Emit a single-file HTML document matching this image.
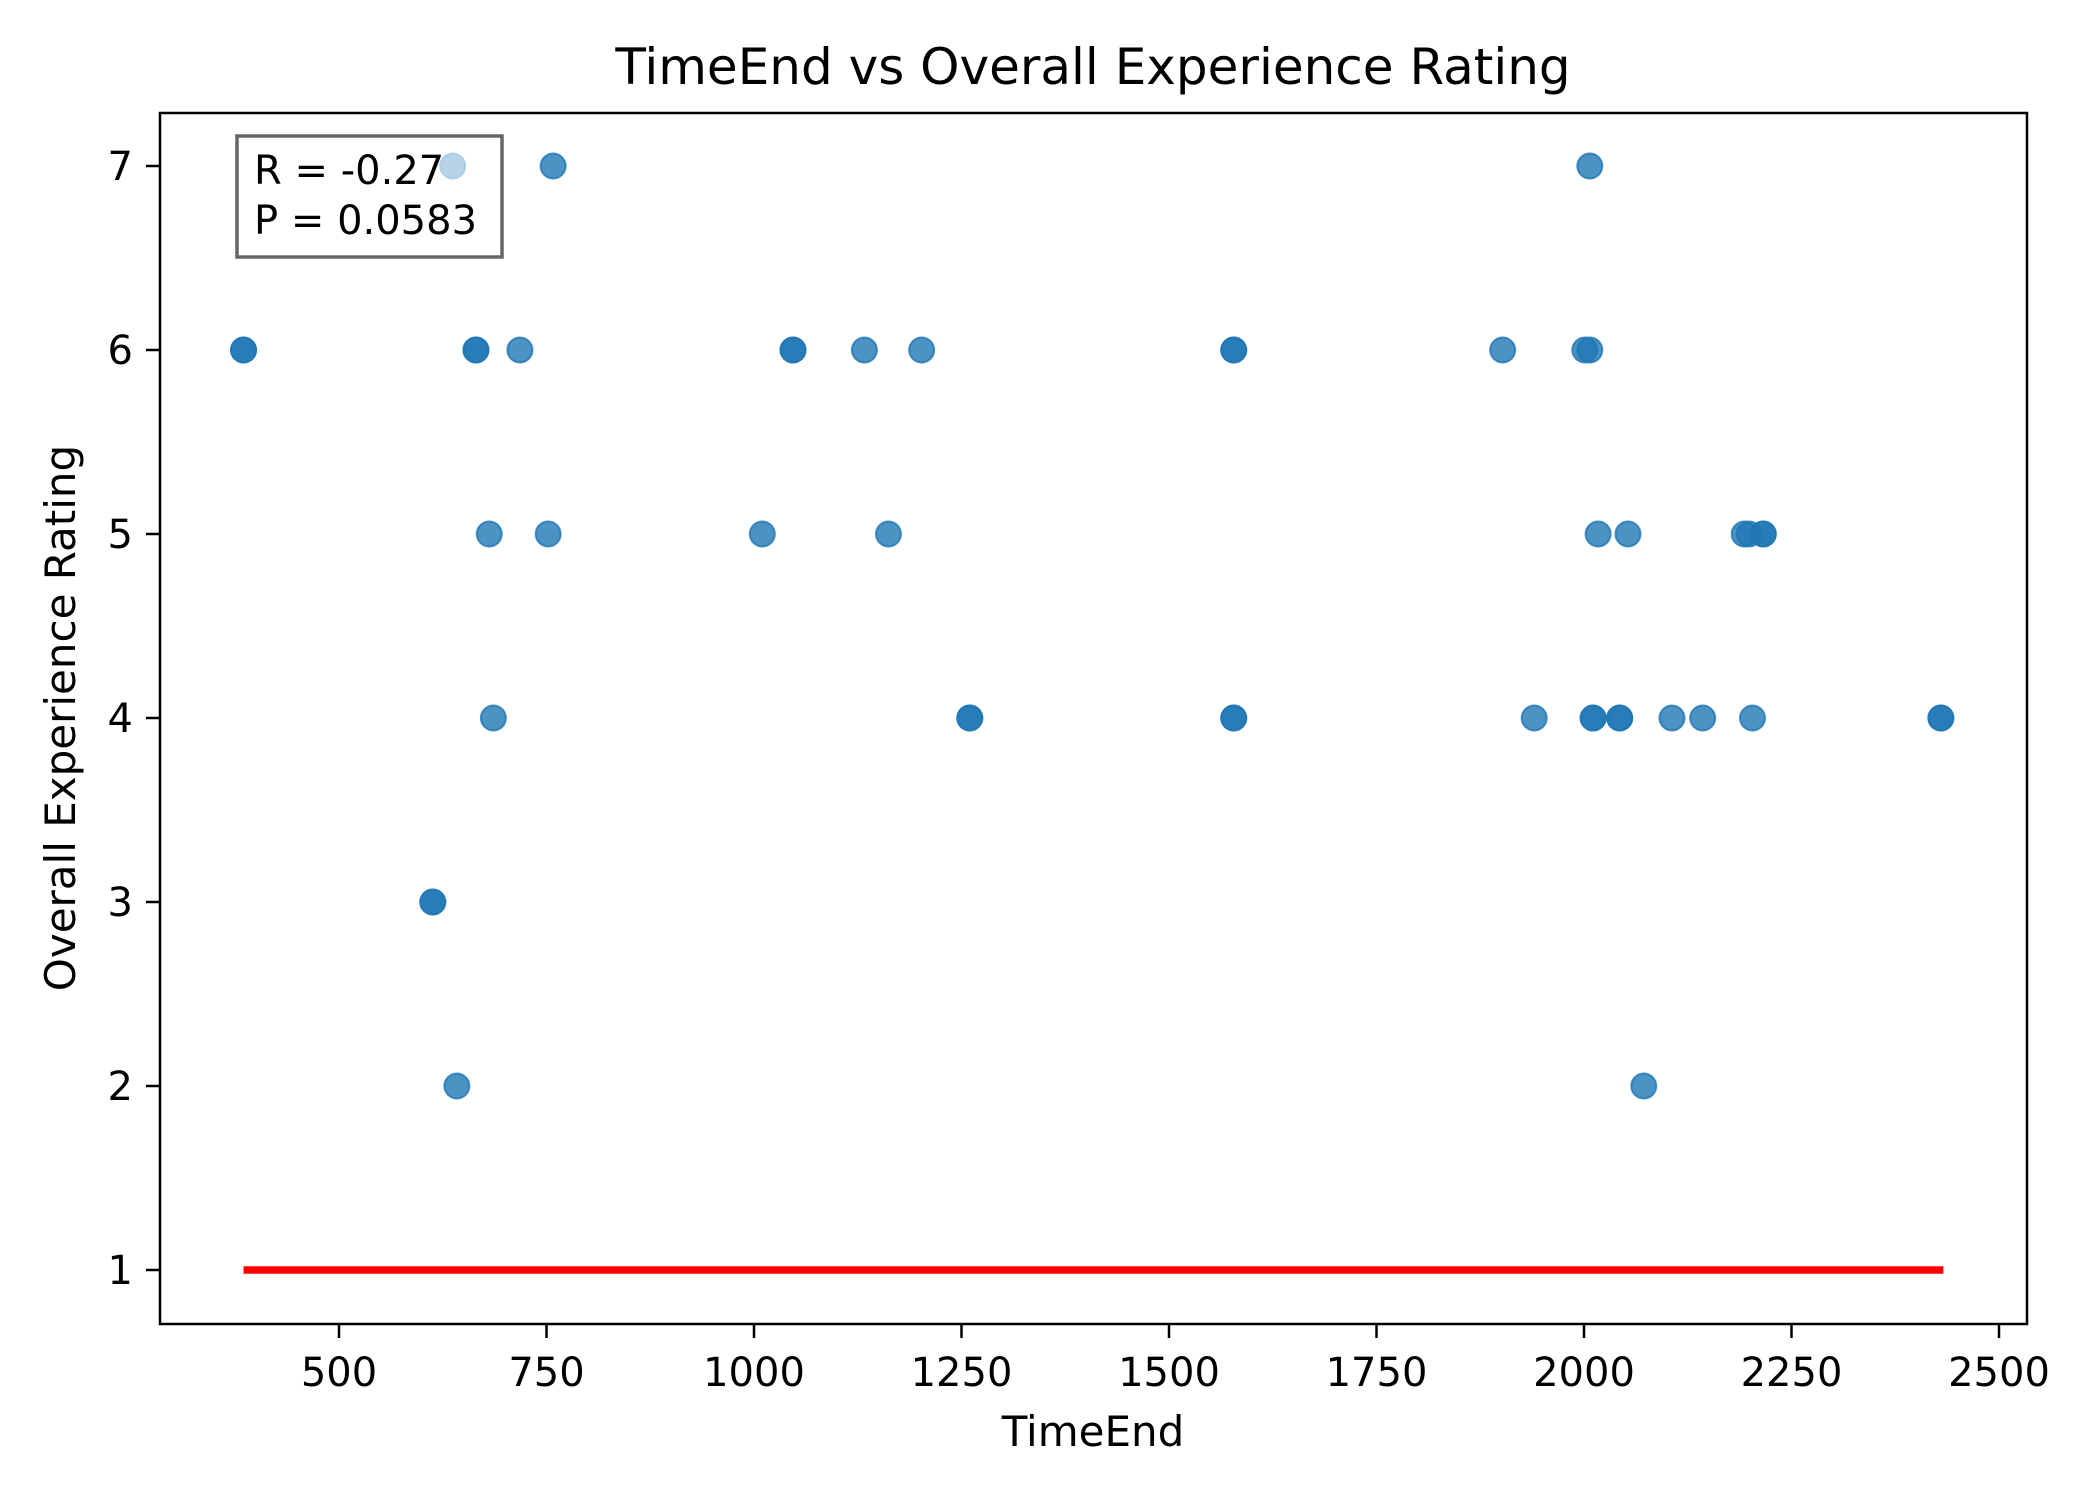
<!DOCTYPE html>
<html><head><meta charset="utf-8"><style>
html,body{margin:0;padding:0;background:#fff;}
svg{display:block;font-family:"DejaVu Sans","Liberation Sans",sans-serif;}
</style></head><body>
<svg id="chart" width="2100" height="1500" viewBox="0 0 2100 1500" xmlns="http://www.w3.org/2000/svg">
<rect x="0" y="0" width="2100" height="1500" fill="#fff"/>
<text x="1093" y="84" font-size="50" text-anchor="middle">TimeEnd vs Overall Experience Rating</text>
<g id="marks"></g>
<rect x="160" y="113" width="1867" height="1211" fill="none" stroke="#000" stroke-width="2.5"/>
<g id="axes"></g>
<text x="1093" y="1446" font-size="42" text-anchor="middle">TimeEnd</text>
<text transform="translate(75,718) rotate(-90)" font-size="42" text-anchor="middle">Overall Experience Rating</text>
<g>
<rect x="237" y="136" width="265" height="121" fill="#fff" fill-opacity="0.6" stroke="#666" stroke-width="3.5"/>
<text x="254" y="184" font-size="40">R = -0.27</text>
<text x="254" y="234" font-size="40">P = 0.0583</text>
</g>
</svg>
<script>
const timeEnd = [637,758,2007, 385,385,665,665,718,1047,1047,1133,1202,1578,1578,1902,2001,2007, 681,752,1010,1162,2017,2053,2193,2199,2216,2216, 686,1260,1260,1578,1578,1940,2011,2011,2043,2043,2106,2143,2203,2430,2430, 613,613, 642,2072];
const rating  = [7,7,7, 6,6,6,6,6,6,6,6,6,6,6,6,6,6, 5,5,5,5,5,5,5,5,5,5, 4,4,4,4,4,4,4,4,4,4,4,4,4,4,4, 3,3, 2,2];
const xTicks = [500,750,1000,1250,1500,1750,2000,2250,2500];
const yTicks = [1,2,3,4,5,6,7];
const fitLine = [[385,1],[2433,1]];

const NS = "http://www.w3.org/2000/svg";
function xs(v){ return 339 + (v-500)*(1999-339)/2000; }
function ys(v){ return 1270 - (v-1)*(1270-166)/6; }
const marks = document.getElementById('marks');
const axes = document.getElementById('axes');
for (let i=0;i<timeEnd.length;i++){
  const c = document.createElementNS(NS,'circle');
  c.setAttribute('cx', xs(timeEnd[i]));
  c.setAttribute('cy', ys(rating[i]));
  c.setAttribute('r', 12.5);
  c.setAttribute('fill', '#1f77b4');
  c.setAttribute('fill-opacity', '0.8');
  c.setAttribute('stroke', '#1f77b4');
  c.setAttribute('stroke-opacity', '0.8');
  c.setAttribute('stroke-width', '2');
  
  
  marks.appendChild(c);
}
const ln = document.createElementNS(NS,'line');
ln.setAttribute('x1', xs(fitLine[0][0])); ln.setAttribute('y1', ys(fitLine[0][1]));
ln.setAttribute('x2', xs(fitLine[1][0])); ln.setAttribute('y2', ys(fitLine[1][1]));
ln.setAttribute('stroke', '#ff0000'); ln.setAttribute('stroke-width', '7.5');


marks.appendChild(ln);
xTicks.forEach(t=>{
  const x = xs(t);
  const l = document.createElementNS(NS,'line');
  l.setAttribute('x1',x); l.setAttribute('x2',x); l.setAttribute('y1',1324); l.setAttribute('y2',1338);
  l.setAttribute('stroke','#000'); l.setAttribute('stroke-width','2.5');
  
  
  axes.appendChild(l);
  const tx = document.createElementNS(NS,'text');
  tx.setAttribute('x',x); tx.setAttribute('y',1386); tx.setAttribute('font-size','40'); tx.setAttribute('text-anchor','middle');
  tx.textContent = t;
  
  
  axes.appendChild(tx);
});
yTicks.forEach(t=>{
  const y = ys(t);
  const l = document.createElementNS(NS,'line');
  l.setAttribute('x1',146); l.setAttribute('x2',160); l.setAttribute('y1',y); l.setAttribute('y2',y);
  l.setAttribute('stroke','#000'); l.setAttribute('stroke-width','2.5');
  
  
  axes.appendChild(l);
  const tx = document.createElementNS(NS,'text');
  tx.setAttribute('x',133); tx.setAttribute('y',y+14); tx.setAttribute('font-size','40'); tx.setAttribute('text-anchor','end');
  tx.textContent = t;
  
  
  axes.appendChild(tx);
});
</script>
</body></html>
